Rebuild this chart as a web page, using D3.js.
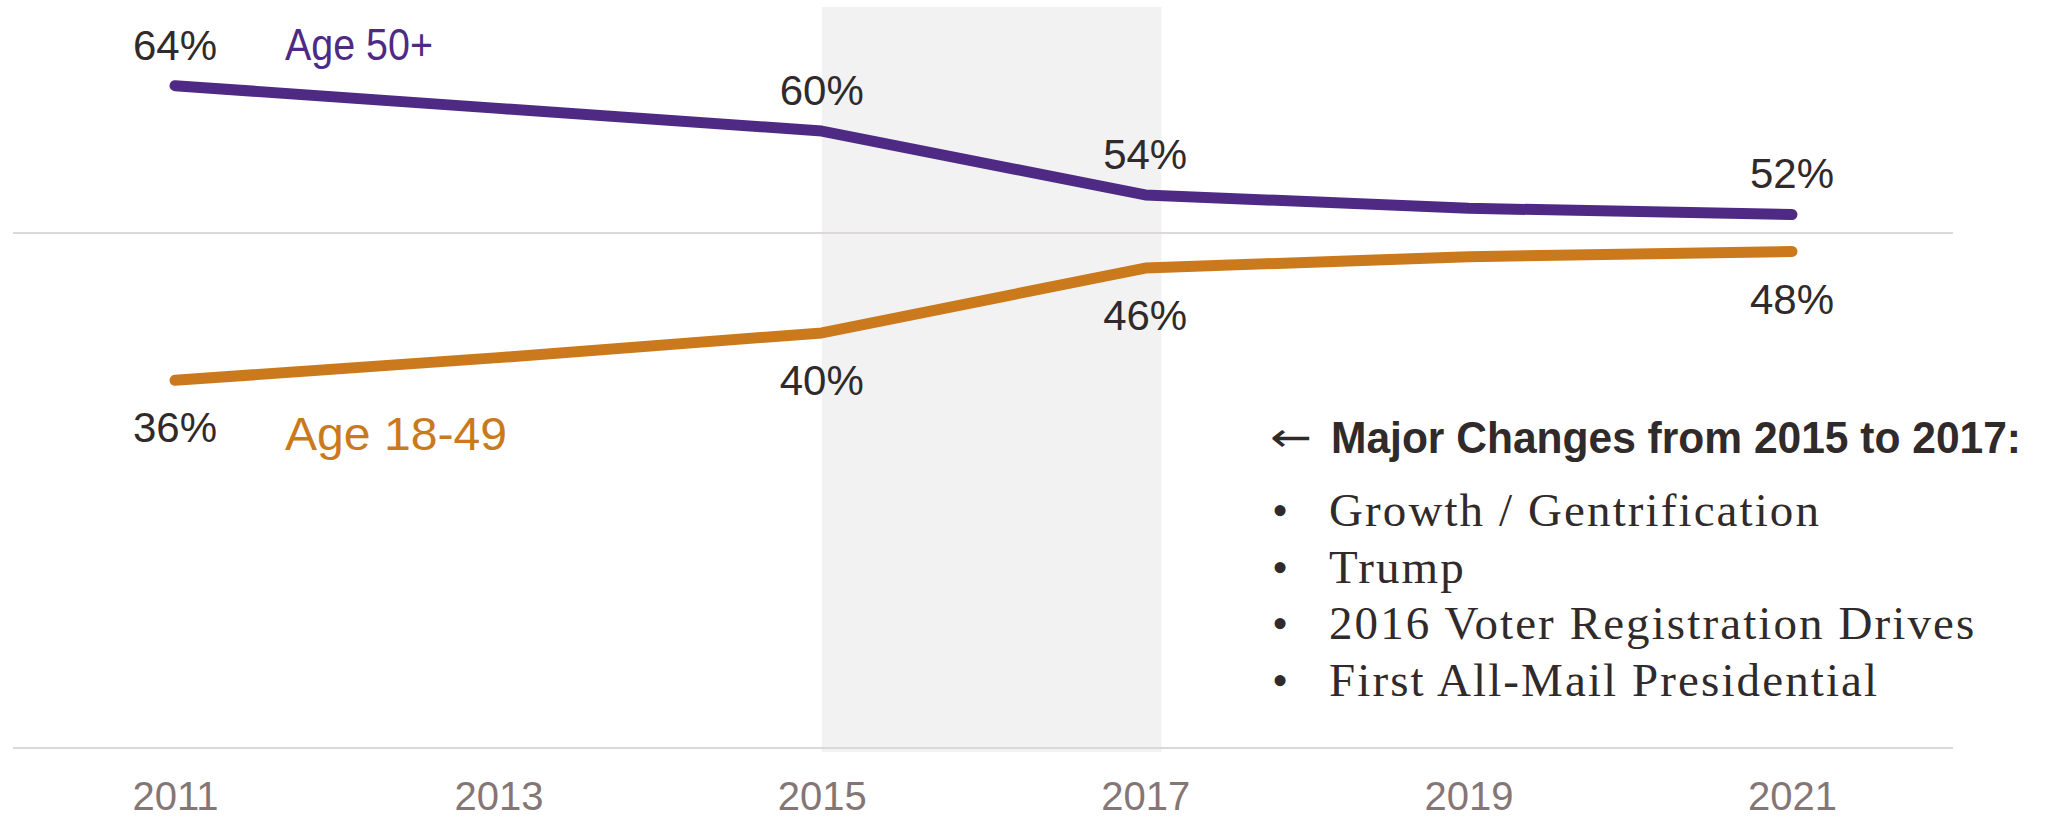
<!DOCTYPE html>
<html>
<head>
<meta charset="utf-8">
<script src="https://cdn.jsdelivr.net/npm/d3@7"></script>
<style>
  html, body { margin: 0; padding: 0; background: #fff; }
  #chart { width: 2047px; height: 819px; }
</style>
</head>
<body>
<div id="chart"></div>
<script>
// data
const years = [2011, 2013, 2015, 2017, 2019, 2021];
const age50plus = [64.3, 62.1, 59.9, 53.7, 52.4, 51.8];
const age18to49 = [35.7, 37.9, 40.3, 46.6, 47.7, 48.2];

const labelYears = [2011, 2015, 2017, 2021];
const labels50 = ["64%", "60%", "54%", "52%"];
const labels18 = ["36%", "40%", "46%", "48%"];

const bandYears = [2015, 2017.1];
const noteArrow = "\u2190";
const noteTitle = "Major Changes from 2015 to 2017:";
const notes = [
    "Growth / Gentrification",
    "Trump",
    "2016 Voter Registration Drives",
    "First All-Mail Presidential"
];

const width = 2047;
const height = 819;
const purple = "#4f2a84";
const orange = "#ca7a1c";
const textColor = "#302a2a";
const sans = "'Liberation Sans', Arial, sans-serif";
const serif = "'Liberation Serif', 'Times New Roman', serif";

const x = d3.scaleLinear()
    .domain([2011, 2021])
    .range([175, 1792]);

const y = d3.scaleLinear()
    .domain([0, 50])
    .range([748, 233]);

const svg = d3.select("#chart").append("svg")
    .attr("width", width)
    .attr("height", height)
    .attr("viewBox", `0 0 ${width} ${height}`)
    .style("display", "block");

// shaded period 2015-2017
svg.append("rect")
    .attr("x", x(bandYears[0]))
    .attr("y", 7)
    .attr("width", x(bandYears[1]) - x(bandYears[0]))
    .attr("height", y(0) + 4 - 7)
    .attr("fill", "#f2f2f2");

// gridlines at 0 and 50
svg.append("g")
    .selectAll("line")
    .data([0, 50])
    .join("line")
    .attr("x1", 13)
    .attr("x2", 1953)
    .attr("y1", d => y(d))
    .attr("y2", d => y(d))
    .attr("stroke", "#dcd8d8")
    .attr("stroke-width", 2);

// x axis
svg.append("g")
    .attr("transform", `translate(0,${y(0)})`)
    .call(d3.axisBottom(x).tickValues(years).tickFormat(d3.format("d")).tickSize(0).tickPadding(34))
    .call(g => g.select(".domain").remove())
    .call(g => g.selectAll("text")
        .attr("fill", "#857676")
        .style("font-family", sans)
        .style("font-size", "40px"));

const line = d3.line()
    .x((d, i) => x(years[i]))
    .y(d => y(d));

svg.append("path")
    .datum(age18to49)
    .attr("d", line)
    .attr("fill", "none")
    .attr("stroke", orange)
    .attr("stroke-width", 11)
    .attr("stroke-linecap", "round")
    .attr("stroke-linejoin", "round");

svg.append("path")
    .datum(age50plus)
    .attr("d", line)
    .attr("fill", "none")
    .attr("stroke", purple)
    .attr("stroke-width", 11)
    .attr("stroke-linecap", "round")
    .attr("stroke-linejoin", "round");

// value labels
const valueAt = (series, yr) => series[years.indexOf(yr)];

svg.append("g")
    .selectAll("text")
    .data(labelYears)
    .join("text")
    .attr("x", d => x(d))
    .attr("y", d => y(valueAt(age50plus, d)) - 26)
    .attr("text-anchor", "middle")
    .attr("fill", textColor)
    .style("font-family", sans)
    .style("font-size", "42px")
    .text((d, i) => labels50[i]);

svg.append("g")
    .selectAll("text")
    .data(labelYears)
    .join("text")
    .attr("x", d => x(d))
    .attr("y", d => y(valueAt(age18to49, d)) + 62)
    .attr("text-anchor", "middle")
    .attr("fill", textColor)
    .style("font-family", sans)
    .style("font-size", "42px")
    .text((d, i) => labels18[i]);

// series names
svg.append("text")
    .attr("x", 285)
    .attr("y", 60)
    .attr("fill", purple)
    .attr("textLength", 148)
    .attr("lengthAdjust", "spacingAndGlyphs")
    .style("font-family", sans)
    .style("font-size", "45px")
    .text("Age 50+");

svg.append("text")
    .attr("x", 285)
    .attr("y", 450)
    .attr("fill", orange)
    .attr("textLength", 222)
    .attr("lengthAdjust", "spacingAndGlyphs")
    .style("font-family", sans)
    .style("font-size", "46px")
    .text("Age 18-49");

// annotation
svg.append("text")
    .attr("x", 1270)
    .attr("y", 451)
    .attr("fill", textColor)
    .attr("textLength", 42)
    .attr("lengthAdjust", "spacingAndGlyphs")
    .style("font-family", "'DejaVu Sans', sans-serif")
    .style("font-size", "40px")
    .text(noteArrow);

svg.append("text")
    .attr("x", 1331)
    .attr("y", 453)
    .attr("fill", textColor)
    .attr("textLength", 690)
    .attr("lengthAdjust", "spacingAndGlyphs")
    .style("font-family", sans)
    .style("font-weight", "bold")
    .style("font-size", "44px")
    .text(noteTitle);

const noteRows = svg.append("g")
    .selectAll("g")
    .data(notes)
    .join("g")
    .attr("transform", (d, i) => `translate(0,${526 + i * 56.7})`);

noteRows.append("text")
    .attr("x", 1272)
    .attr("fill", textColor)
    .style("font-family", serif)
    .style("font-size", "46px")
    .text("\u2022");

noteRows.append("text")
    .attr("x", 1329)
    .attr("fill", textColor)
    .style("font-family", serif)
    .style("font-size", "47px")
    .style("letter-spacing", "2.1px")
    .text(d => d);
</script>
</body>
</html>
